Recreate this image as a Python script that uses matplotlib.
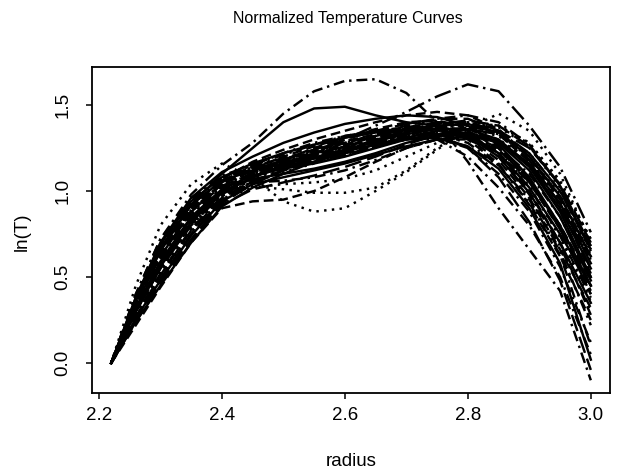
import matplotlib
matplotlib.use("Agg")
import matplotlib.pyplot as plt

# radius grid shared by all curves
radius = [2.22, 2.26, 2.30, 2.35, 2.40, 2.45, 2.50, 2.55, 2.60, 2.65,
          2.70, 2.75, 2.80, 2.85, 2.90, 2.95, 3.00]

# special curves
c_high_arc = [0, 0.40, 0.72, 0.98, 1.15, 1.28, 1.45, 1.58, 1.64, 1.65, 1.57, 1.40, 1.17, 0.90, 0.66, 0.42, -0.10]
c_right_arc = [0, 0.30, 0.55, 0.80, 0.98, 1.08, 1.15, 1.22, 1.30, 1.38, 1.46, 1.55, 1.62, 1.58, 1.38, 1.14, 0.76]
c_solid_arc = [0, 0.36, 0.65, 0.92, 1.10, 1.25, 1.40, 1.48, 1.49, 1.44, 1.40, 1.38, 1.33, 1.22, 1.02, 0.75, 0.45]
c_dot_dip = [0, 0.45, 0.80, 1.04, 1.16, 1.08, 0.94, 0.88, 0.90, 1.00, 1.11, 1.24, 1.36, 1.45, 1.35, 1.10, 0.70]
c_dot_flat = [0, 0.30, 0.55, 0.80, 0.98, 1.03, 1.01, 0.99, 0.99, 1.02, 1.12, 1.25, 1.35, 1.38, 1.28, 1.05, 0.72]
c_dash_flat = [0, 0.22, 0.44, 0.70, 0.90, 0.94, 0.95, 1.00, 1.08, 1.17, 1.25, 1.30, 1.30, 1.22, 1.05, 0.80, 0.48]
c_dash_low = [0, 0.35, 0.62, 0.88, 1.05, 1.15, 1.22, 1.28, 1.32, 1.35, 1.35, 1.30, 1.20, 1.02, 0.80, 0.50, 0.05]

special_curves = [c_high_arc, c_right_arc, c_solid_arc, c_dot_dip,
                  c_dot_flat, c_dash_flat, c_dash_low]
special_styles = ['dashdot', 'longdashdot', 'solid', 'dotted',
                  'dotted', 'dashed', 'dashdot']

# the bulk of the curves
n01 = [0, 0.30, 0.56, 0.82, 0.99, 1.08, 1.14, 1.19, 1.24, 1.29, 1.33, 1.36, 1.36, 1.30, 1.15, 0.90, 0.55]
n02 = [0, 0.34, 0.62, 0.88, 1.04, 1.12, 1.18, 1.23, 1.28, 1.32, 1.36, 1.38, 1.35, 1.25, 1.05, 0.78, 0.42]
n03 = [0, 0.27, 0.50, 0.76, 0.95, 1.05, 1.11, 1.16, 1.21, 1.26, 1.30, 1.33, 1.34, 1.30, 1.18, 0.95, 0.62]
n04 = [0, 0.38, 0.68, 0.93, 1.07, 1.14, 1.18, 1.21, 1.25, 1.30, 1.35, 1.37, 1.33, 1.20, 0.98, 0.68, 0.30]
n05 = [0, 0.25, 0.47, 0.72, 0.93, 1.04, 1.12, 1.19, 1.26, 1.32, 1.37, 1.40, 1.40, 1.35, 1.22, 1.00, 0.68]
n06 = [0, 0.32, 0.58, 0.84, 1.00, 1.07, 1.10, 1.13, 1.17, 1.22, 1.28, 1.32, 1.33, 1.28, 1.12, 0.85, 0.48]
n07 = [0, 0.36, 0.65, 0.90, 1.05, 1.13, 1.20, 1.26, 1.31, 1.35, 1.37, 1.36, 1.30, 1.16, 0.92, 0.62, 0.25]
n08 = [0, 0.29, 0.54, 0.80, 0.98, 1.08, 1.15, 1.21, 1.27, 1.31, 1.34, 1.37, 1.38, 1.33, 1.20, 0.98, 0.65]
n09 = [0, 0.40, 0.72, 0.96, 1.09, 1.15, 1.19, 1.22, 1.25, 1.28, 1.30, 1.30, 1.26, 1.15, 0.95, 0.65, 0.22]
n10 = [0, 0.31, 0.57, 0.83, 1.01, 1.11, 1.18, 1.24, 1.30, 1.35, 1.39, 1.42, 1.42, 1.35, 1.18, 0.92, 0.55]
n11 = [0, 0.26, 0.48, 0.74, 0.94, 1.04, 1.08, 1.12, 1.16, 1.21, 1.26, 1.30, 1.32, 1.29, 1.16, 0.93, 0.58]
n12 = [0, 0.35, 0.63, 0.89, 1.04, 1.12, 1.17, 1.21, 1.26, 1.31, 1.35, 1.36, 1.31, 1.18, 0.96, 0.66, 0.32]
n13 = [0, 0.28, 0.52, 0.78, 0.97, 1.07, 1.14, 1.20, 1.25, 1.30, 1.34, 1.38, 1.40, 1.38, 1.28, 1.06, 0.72]
n14 = [0, 0.33, 0.60, 0.86, 1.02, 1.10, 1.15, 1.19, 1.23, 1.28, 1.32, 1.34, 1.32, 1.22, 1.02, 0.74, 0.38]
n15 = [0, 0.37, 0.67, 0.92, 1.06, 1.13, 1.17, 1.20, 1.24, 1.28, 1.31, 1.31, 1.25, 1.08, 0.82, 0.48, -0.04]
n16 = [0, 0.24, 0.45, 0.70, 0.91, 1.02, 1.10, 1.17, 1.23, 1.29, 1.34, 1.38, 1.39, 1.34, 1.20, 0.97, 0.62]
n17 = [0, 0.30, 0.55, 0.81, 0.99, 1.10, 1.18, 1.25, 1.31, 1.36, 1.40, 1.41, 1.37, 1.26, 1.06, 0.78, 0.40]
n18 = [0, 0.34, 0.61, 0.87, 1.03, 1.11, 1.16, 1.20, 1.24, 1.28, 1.32, 1.35, 1.36, 1.32, 1.20, 0.97, 0.63]
n19 = [0, 0.39, 0.70, 0.95, 1.08, 1.15, 1.21, 1.27, 1.32, 1.35, 1.36, 1.33, 1.25, 1.10, 0.88, 0.56, 0.12]
n20 = [0, 0.27, 0.51, 0.77, 0.96, 1.06, 1.12, 1.17, 1.22, 1.27, 1.31, 1.35, 1.37, 1.35, 1.25, 1.04, 0.70]
n21 = [0, 0.32, 0.59, 0.85, 1.01, 1.09, 1.13, 1.16, 1.20, 1.25, 1.30, 1.33, 1.34, 1.29, 1.14, 0.88, 0.50]
n22 = [0, 0.36, 0.66, 0.91, 1.06, 1.14, 1.19, 1.24, 1.29, 1.33, 1.36, 1.37, 1.33, 1.22, 1.00, 0.70, 0.28]
n23 = [0, 0.29, 0.53, 0.79, 0.97, 1.07, 1.13, 1.18, 1.23, 1.28, 1.33, 1.37, 1.39, 1.37, 1.26, 1.02, 0.66]
n24 = [0, 0.33, 0.60, 0.86, 1.02, 1.10, 1.16, 1.21, 1.26, 1.30, 1.33, 1.33, 1.28, 1.15, 0.93, 0.63, 0.10]
n25 = [0, 0.26, 0.49, 0.75, 0.95, 1.05, 1.12, 1.18, 1.24, 1.30, 1.35, 1.39, 1.41, 1.38, 1.26, 1.03, 0.65]
n26 = [0, 0.38, 0.69, 0.94, 1.08, 1.16, 1.22, 1.27, 1.31, 1.34, 1.36, 1.36, 1.32, 1.20, 0.99, 0.70, 0.35]
n27 = [0, 0.31, 0.57, 0.83, 1.00, 1.09, 1.14, 1.18, 1.22, 1.26, 1.30, 1.32, 1.31, 1.24, 1.07, 0.80, 0.45]
n28 = [0, 0.35, 0.64, 0.89, 1.04, 1.12, 1.18, 1.23, 1.28, 1.32, 1.35, 1.36, 1.33, 1.23, 1.03, 0.73, 0.36]
n29 = [0, 0.28, 0.52, 0.78, 0.97, 1.08, 1.15, 1.22, 1.28, 1.33, 1.38, 1.42, 1.44, 1.40, 1.27, 1.03, 0.68]
n30 = [0, 0.34, 0.62, 0.88, 1.03, 1.10, 1.14, 1.17, 1.21, 1.26, 1.31, 1.34, 1.33, 1.25, 1.06, 0.78, 0.40]
n31 = [0, 0.37, 0.67, 0.92, 1.06, 1.12, 1.16, 1.19, 1.23, 1.27, 1.30, 1.31, 1.26, 1.13, 0.90, 0.58, 0.02]
n32 = [0, 0.30, 0.55, 0.81, 0.99, 1.09, 1.16, 1.22, 1.27, 1.32, 1.36, 1.39, 1.39, 1.33, 1.17, 0.92, 0.52]
n33 = [0, 0.27, 0.50, 0.76, 0.95, 1.02, 1.04, 1.05, 1.07, 1.12, 1.20, 1.28, 1.32, 1.30, 1.18, 0.95, 0.60]
n34 = [0, 0.31, 0.57, 0.83, 0.99, 1.05, 1.06, 1.08, 1.12, 1.18, 1.25, 1.30, 1.31, 1.25, 1.10, 0.85, 0.50]
n35 = [0, 0.24, 0.46, 0.71, 0.92, 1.01, 1.05, 1.09, 1.14, 1.20, 1.27, 1.33, 1.36, 1.33, 1.22, 1.00, 0.66]
n36 = [0, 0.38, 0.70, 0.96, 1.11, 1.20, 1.28, 1.34, 1.39, 1.42, 1.44, 1.43, 1.38, 1.27, 1.08, 0.80, 0.45]
n37 = [0, 0.35, 0.64, 0.90, 1.07, 1.17, 1.24, 1.30, 1.35, 1.40, 1.44, 1.46, 1.44, 1.36, 1.20, 0.95, 0.60]

normal_curves = [n01, n02, n03, n04, n05, n06, n07, n08, n09, n10, n11, n12,
                 n13, n14, n15, n16, n17, n18, n19, n20, n21, n22, n23, n24,
                 n25, n26, n27, n28, n29, n30, n31, n32, n33, n34, n35, n36, n37]

x_ticks = [2.2, 2.4, 2.6, 2.8, 3.0]
x_ticklabels = ['2.2', '2.4', '2.6', '2.8', '3.0']
y_ticks = [0.0, 0.5, 1.0, 1.5]
y_ticklabels = ['0.0', '0.5', '1.0', '1.5']

title = 'Normalized Temperature Curves'
xlabel = 'radius'
ylabel = 'ln(T)'

# ---------------------------------------------------------------------------
plt.rcParams['font.family'] = ['Liberation Sans', 'DejaVu Sans']

W, H = 617, 475
fig = plt.figure(figsize=(W / 100, H / 100), dpi=100)
L, R, T, B = 92, 610, 67, 393
ax = fig.add_axes([L / W, 1 - B / H, (R - L) / W, (B - T) / H])

styles = {
    'solid': '-',
    'dashed': (0, (4, 2)),
    'dotted': (0, (1, 2.2)),
    'dashdot': (0, (4.5, 2, 1, 2)),
    'longdash': (0, (7, 2.5)),
    'longdashdot': (0, (7, 2, 1, 2)),
}
cycle = ['solid', 'dashed', 'dotted', 'dashdot', 'longdash']

lw = 1.75
for i, ys in enumerate(normal_curves):
    ax.plot(radius, ys, color='black', lw=lw,
            linestyle=styles[cycle[i % len(cycle)]],
            solid_joinstyle='round', dash_capstyle='butt')
for ys, st in zip(special_curves, special_styles):
    ax.plot(radius, ys, color='black', lw=lw, linestyle=styles[st],
            solid_joinstyle='round')

ax.set_xlim(2.1888, 3.0312)
ax.set_ylim(-0.174, 1.721)
ax.set_xticks(x_ticks)
ax.set_xticklabels(x_ticklabels)
ax.set_yticks(y_ticks)
ax.set_yticklabels(y_ticklabels, rotation=90, va='center')

for sp in ax.spines.values():
    sp.set_linewidth(1.3)
ax.tick_params(direction='out', length=4, width=1.1, labelsize=13.5,
               colors='black')
ax.tick_params(axis='x', pad=6)
ax.tick_params(axis='y', pad=11)

fig.text(348 / W, 1 - 18 / H, title, ha='center', va='center', fontsize=11.5)
fig.text(351 / W, 1 - 462 / H, xlabel, ha='center', va='center', fontsize=13.5)
fig.text(22 / W, 1 - 232 / H, ylabel, ha='center', va='center', fontsize=13.5,
         rotation=90)

fig.savefig('out.png', dpi=100)
